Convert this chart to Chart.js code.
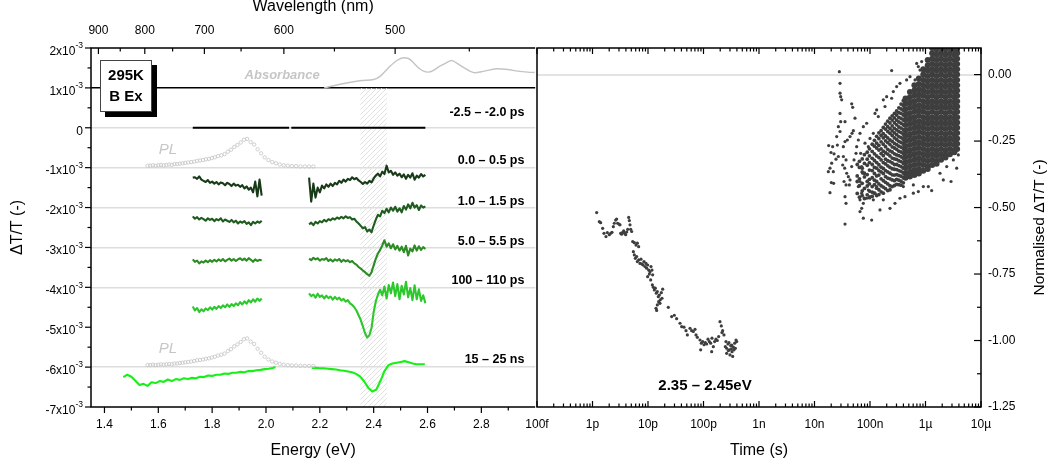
<!DOCTYPE html>
<html>
<head>
<meta charset="utf-8">
<script src="https://cdn.jsdelivr.net/npm/chart.js@4.4.1/dist/chart.umd.min.js"></script>
<style>
  html, body { margin: 0; padding: 0; background: #fff; }
  #wrap { position: relative; width: 1047px; height: 470px; overflow: hidden; background: #fff; }
  #left { position: absolute; left: 0; top: 0; }
  #right { position: absolute; left: 500px; top: 0; }
</style>
</head>
<body>
<div id="wrap">
  <canvas id="left" width="540" height="470"></canvas>
  <canvas id="right" width="547" height="470"></canvas>
</div>
<script>
// ===============================
// DATOS - espectros (ΔT/T en unidades de 1e-3)
// ===============================
const HC = 1239.84; // eV*nm

const energyLo = [1.728,1.736,1.744,1.752,1.760,1.768,1.776,1.784,1.792,1.800,1.808,1.816,1.824,1.832,1.840,1.848,1.856,
  1.864,1.872,1.880,1.888,1.896,1.904,1.912,1.920,1.928,1.936,1.944,1.952,1.960,1.968,1.976,1.984];
const energyHi = [2.160,2.168,2.176,2.184,2.192,2.200,2.208,2.216,2.224,2.232,2.240,2.248,2.256,2.264,2.272,2.280,2.288,
  2.296,2.304,2.312,2.320,2.328,2.336,2.344,2.352,2.360,2.368,2.376,2.384,2.392,2.400,2.408,2.416,2.424,2.432,2.440,
  2.448,2.456,2.464,2.472,2.480,2.488,2.496,2.504,2.512,2.520,2.528,2.536,2.544,2.552,2.560,2.568,2.576,2.584,2.592];

const preEnergy = [1.728, 2.086, 2.094, 2.592];
const preValue = [0, 0, 0, 0];

const ps0Lo = [-1.25,-1.24,-1.28,-1.22,-1.30,-1.33,-1.36,-1.31,-1.38,-1.35,-1.40,-1.36,-1.42,-1.37,-1.39,-1.44,-1.38,
  -1.41,-1.46,-1.40,-1.45,-1.43,-1.48,-1.44,-1.52,-1.47,-1.55,-1.50,-1.62,-1.35,-1.72,-1.30,-1.70];
const ps0Hi = [-1.25,-1.85,-1.40,-1.75,-1.50,-1.62,-1.45,-1.52,-1.42,-1.48,-1.40,-1.46,-1.38,-1.42,-1.33,-1.38,-1.30,
  -1.35,-1.28,-1.31,-1.24,-1.29,-1.26,-1.32,-1.36,-1.41,-1.36,-1.40,-1.33,-1.37,-1.27,-1.20,-1.15,-1.22,-1.10,-1.16,
  -0.95,-1.12,-1.08,-1.18,-1.12,-1.20,-1.15,-1.24,-1.17,-1.28,-1.18,-1.25,-1.14,-1.30,-1.20,-1.25,-1.16,-1.22,-1.18];

const ps1Lo = [-2.22,-2.28,-2.24,-2.30,-2.26,-2.29,-2.33,-2.27,-2.31,-2.28,-2.34,-2.29,-2.32,-2.27,-2.35,-2.30,-2.33,
  -2.36,-2.31,-2.37,-2.33,-2.40,-2.35,-2.38,-2.34,-2.41,-2.37,-2.44,-2.36,-2.40,-2.35,-2.38,-2.33];
const ps1Hi = [-2.42,-2.38,-2.44,-2.36,-2.40,-2.34,-2.37,-2.31,-2.35,-2.29,-2.32,-2.27,-2.30,-2.25,-2.28,-2.23,-2.27,
  -2.22,-2.26,-2.24,-2.30,-2.28,-2.35,-2.40,-2.46,-2.52,-2.49,-2.60,-2.55,-2.62,-2.45,-2.30,-2.18,-2.22,-2.08,-2.14,
  -2.03,-2.12,-2.00,-2.08,-1.98,-2.10,-2.02,-2.12,-1.96,-2.05,-1.92,-2.02,-1.88,-2.00,-1.94,-2.06,-1.95,-2.00,-1.97];

const ps5Lo = [-3.30,-3.36,-3.33,-3.40,-3.35,-3.38,-3.33,-3.37,-3.32,-3.36,-3.31,-3.35,-3.30,-3.34,-3.29,-3.35,-3.31,
  -3.28,-3.33,-3.29,-3.34,-3.30,-3.27,-3.32,-3.28,-3.33,-3.27,-3.31,-3.36,-3.30,-3.34,-3.31,-3.33];
const ps5Hi = [-3.28,-3.32,-3.26,-3.30,-3.27,-3.33,-3.29,-3.31,-3.27,-3.34,-3.30,-3.35,-3.30,-3.33,-3.29,-3.36,-3.31,
  -3.35,-3.32,-3.37,-3.34,-3.40,-3.43,-3.49,-3.53,-3.58,-3.62,-3.67,-3.71,-3.62,-3.45,-3.28,-3.15,-3.06,-2.95,-2.82,
  -2.98,-2.90,-3.02,-2.92,-3.05,-2.96,-3.08,-2.98,-3.12,-2.96,-3.20,-3.03,-3.10,-2.95,-3.08,-2.97,-3.06,-2.99,-3.04];

const ps100Lo = [-4.48,-4.58,-4.52,-4.62,-4.55,-4.60,-4.53,-4.57,-4.50,-4.56,-4.49,-4.54,-4.47,-4.52,-4.45,-4.50,-4.43,
  -4.49,-4.42,-4.47,-4.40,-4.45,-4.37,-4.43,-4.35,-4.41,-4.32,-4.38,-4.30,-4.36,-4.28,-4.34,-4.28];
const ps100Hi = [-4.15,-4.22,-4.18,-4.26,-4.16,-4.24,-4.20,-4.28,-4.21,-4.27,-4.23,-4.31,-4.24,-4.30,-4.26,-4.33,-4.29,
  -4.36,-4.32,-4.40,-4.44,-4.50,-4.58,-4.70,-4.82,-4.98,-5.15,-5.26,-5.20,-5.02,-4.62,-4.35,-4.18,-4.06,-4.20,-3.98,
  -4.28,-3.94,-4.15,-3.88,-4.22,-3.92,-4.30,-3.96,-4.18,-3.86,-4.25,-4.02,-4.32,-3.95,-4.30,-4.05,-4.34,-4.20,-4.40];

const energyNsLo = [1.470,1.485,1.500,1.515,1.530,1.545,1.560,1.575,1.590,1.605,1.620,1.635,1.650,1.665,1.680,1.695,
  1.710,1.725,1.740,1.755,1.770,1.785,1.800,1.815,1.830,1.845,1.860,1.875,1.890,1.905,1.920,1.935,1.950,1.965,1.980,
  1.995,2.010,2.025,2.035];
const nsLo = [-6.25,-6.19,-6.24,-6.34,-6.45,-6.42,-6.47,-6.38,-6.40,-6.35,-6.37,-6.31,-6.35,-6.30,-6.32,-6.28,-6.30,
  -6.27,-6.28,-6.24,-6.25,-6.21,-6.22,-6.19,-6.19,-6.16,-6.17,-6.14,-6.14,-6.12,-6.13,-6.10,-6.10,-6.08,-6.07,-6.05,
  -6.04,-6.02,-6.00];
const energyNsHi = [2.170,2.185,2.200,2.215,2.230,2.245,2.260,2.275,2.290,2.305,2.320,2.335,2.350,2.365,2.380,2.395,
  2.410,2.425,2.440,2.455,2.470,2.485,2.500,2.515,2.530,2.545,2.560,2.575,2.590];
const nsHi = [-6.02,-6.02,-6.03,-6.03,-6.04,-6.05,-6.06,-6.08,-6.09,-6.11,-6.13,-6.17,-6.24,-6.36,-6.52,-6.61,-6.56,
  -6.35,-6.10,-5.95,-5.91,-5.89,-5.87,-5.85,-5.88,-5.91,-5.93,-5.93,-5.93];

// PL (altura sobre la linea base de cada espectro)
const plEnergy = [1.560,1.570,1.580,1.590,1.600,1.610,1.620,1.630,1.640,1.650,1.660,1.670,1.680,1.690,1.700,1.711,
  1.722,1.733,1.744,1.755,1.766,1.777,1.788,1.799,1.810,1.822,1.834,1.846,1.858,1.870,1.882,1.894,1.906,1.918,1.930,
  1.943,1.956,1.969,1.982,1.995,2.009,2.023,2.037,2.051,2.066,2.081,2.096,2.112,2.128,2.144,2.160,2.176];
const plHeight = [0.05,0.05,0.06,0.05,0.06,0.07,0.06,0.07,0.08,0.07,0.09,0.09,0.10,0.11,0.12,0.13,0.14,0.15,0.17,0.18,
  0.19,0.21,0.22,0.24,0.26,0.29,0.31,0.34,0.40,0.45,0.52,0.57,0.63,0.70,0.72,0.64,0.58,0.46,0.36,0.26,
  0.19,0.14,0.11,0.08,0.06,0.05,0.04,0.04,0.03,0.03,0.03,0.03];
const plBaselines = [-1, -6];

const absEnergy = [2.216,2.271,2.357,2.400,2.425,2.455,2.486,2.511,2.529,2.548,2.566,2.585,2.603,2.621,2.646,2.670,
  2.689,2.707,2.732,2.757,2.775,2.812,2.861,2.898,2.935,2.972,2.998];
const absValue = [1.00,1.085,1.185,1.21,1.296,1.504,1.687,1.754,1.737,1.629,1.504,1.421,1.396,1.436,1.546,1.629,
  1.687,1.629,1.521,1.421,1.378,1.421,1.479,1.46,1.421,1.396,1.386];

const bandRange = [2.35, 2.45];
const traceLabels = ["-2.5 \u2013 -2.0 ps", "0.0 \u2013 0.5 ps", "1.0 \u2013 1.5 ps", "5.0 \u2013 5.5 ps", "100 \u2013 110 ps", "15 \u2013 25 ns"];
const traceLabelY = [0.38, -0.82, -1.84, -2.84, -3.84, -5.82];
const traceBaselines = [0, -1, -2, -3, -4, -6];

// ejes
const energyMajor = [1.4, 1.6, 1.8, 2.0, 2.2, 2.4, 2.6, 2.8];
const energyMinor = [1.5, 1.7, 1.9, 2.1, 2.3, 2.5, 2.7, 2.9];
const nmMajor = [900, 800, 700, 600, 500];
const nmMinor = [850, 750, 650, 550, 450];
const leftMajor = [2, 1, 0, -1, -2, -3, -4, -5, -6, -7];
const leftMinor = [1.5, 0.5, -0.5, -1.5, -2.5, -3.5, -4.5, -5.5, -6.5];

// ===============================
// DATOS - cinetica normalizada (log10 del tiempo en s)
// ===============================
const decayLogT = [
  -11.925,-11.877,-11.853,-11.817,-11.793,-11.757,-11.733,-11.697,-11.673,-11.649,
  -11.625,-11.607,-11.583,-11.565,-11.547,-11.523,-11.505,-11.493,-11.475,-11.457,
  -11.438,-11.420,-11.402,-11.384,-11.366,-11.348,-11.336,-11.324,-11.312,-11.294,
  -11.276,-11.246,-11.216,-11.192,-11.168,-11.264,-11.246,-11.228,-11.204,-11.192,
  -11.168,-11.144,-11.126,-11.108,-11.090,-11.072,-11.054,-11.036,-11.024,-11.006,
  -10.988,-10.964,-10.946,-10.928,-10.916,-11.006,-10.976,-10.952,-10.922,-10.904,
  -10.886,-10.868,-10.850,-10.832,-10.814,-10.796,-10.778,-10.760,-10.748,-10.736,
  -10.808,-10.832,-10.856,-10.844,-10.784,-10.634,-10.574,-10.526,-10.484,-10.423,
  -10.393,-10.351,-10.315,-10.291,-10.243,-10.213,-10.183,-10.153,-10.135,-10.111,
  -10.063,-10.039,-10.015,-9.991,-9.967,-9.943,-9.919,-9.895,-9.871,-9.847,
  -9.823,-9.799,-9.775,-9.751,-9.727,-10.051,-9.853,-9.703,-9.679,-9.655,
  -9.631,-9.667,-9.607,-9.583,-9.559,-9.535,-9.510,-9.486,-9.462,-9.438,
  -9.414,-9.583,-9.523,-9.474,-9.450,-9.426,-9.402,-9.553,-9.498,-9.595,
  -9.541,-9.492];
const decayVal = [
  -0.519,-0.553,-0.557,-0.578,-0.597,-0.609,-0.594,-0.602,-0.597,-0.593,
  -0.572,-0.559,-0.547,-0.543,-0.559,-0.562,-0.565,-0.597,-0.600,-0.593,
  -0.588,-0.597,-0.602,-0.592,-0.582,-0.537,-0.549,-0.565,-0.582,-0.590,
  -0.628,-0.632,-0.641,-0.634,-0.647,-0.666,-0.678,-0.691,-0.684,-0.703,
  -0.697,-0.710,-0.694,-0.712,-0.716,-0.703,-0.722,-0.710,-0.728,-0.716,
  -0.735,-0.741,-0.722,-0.735,-0.753,-0.760,-0.750,-0.772,-0.791,-0.800,
  -0.810,-0.803,-0.822,-0.816,-0.835,-0.829,-0.847,-0.820,-0.841,-0.807,
  -0.854,-0.866,-0.879,-0.887,-0.860,-0.875,-0.910,-0.905,-0.918,-0.935,
  -0.948,-0.950,-0.963,-0.979,-0.954,-0.963,-0.966,-0.958,-0.979,-0.988,
  -0.998,-1.010,-1.004,-1.016,-1.008,-1.013,-0.995,-1.004,-1.010,-0.991,
  -1.023,-1.004,-0.995,-1.000,-0.985,-1.035,-1.042,-0.929,-0.945,-0.963,
  -0.979,-0.970,-1.023,-1.029,-1.013,-1.035,-1.020,-1.042,-1.025,-1.010,
  -0.998,-1.048,-1.054,-1.060,-1.035,-1.029,-1.004,-1.038,-1.032,-1.004,
  -1.008,-1.017];

// puntos sueltos de la nube (ns - us)
const cloudLogT = [
  -7.552,-7.540,-7.540,-7.528,-7.510,-7.540,-7.528,-7.570,-7.540,-7.600,
  -7.588,-7.745,-7.673,-7.703,-7.648,-7.613,-7.721,-7.661,-7.751,-7.697,
  -7.655,-7.721,-7.691,-7.570,-7.480,-7.450,-7.408,-7.360,-7.324,-7.300,
  -7.330,-7.312,-7.270,-7.450,-7.480,-7.432,-7.492,-7.456,-7.420,-7.390,
  -7.468,-7.432,-7.372,-7.450,-7.432,-7.450,-7.360,-7.330,-7.288,-7.252,
  -7.240,-7.210,-7.180,-7.168,-7.150,-7.132,-7.180,-7.210,-7.150,-7.180,
  -7.120,-7.150,-7.180,-7.120,-6.970,-7.060,-7.030,-7.000,-6.940,-6.910,
  -6.880,-6.820,-6.760,-6.640,-6.550,-6.460,-6.370,-6.219,-6.129,-6.610,
  -5.540,-5.438,-5.889,-5.949,-7.120,-7.060,-7.090,-7.030,-7.000,-6.940,
  -6.910,-6.880,-6.850,-6.760,-6.700,-6.730,-6.580,-6.610,-6.520,-6.460,
  -6.340,-6.279,-6.159,-6.129,-6.099,-6.189,-6.069,-5.739,-5.618,-5.498,
  -5.408,-5.679,-6.039,-6.219,-6.399];
const cloudVal = [
  0.011,-0.033,-0.070,-0.083,-0.095,-0.146,-0.177,-0.196,-0.214,-0.233,
  -0.265,-0.267,-0.271,-0.293,-0.298,-0.318,-0.352,-0.365,-0.365,-0.406,
  -0.409,-0.444,-0.333,-0.308,-0.271,-0.252,-0.246,-0.233,-0.221,-0.211,
  -0.110,-0.123,-0.164,-0.177,-0.308,-0.321,-0.340,-0.352,-0.371,-0.384,
  -0.402,-0.415,-0.415,-0.459,-0.484,-0.562,-0.396,-0.346,-0.321,-0.296,
  -0.271,-0.246,-0.221,-0.296,-0.346,-0.371,-0.402,-0.421,-0.446,-0.471,
  -0.484,-0.503,-0.515,-0.540,-0.547,-0.465,-0.434,-0.459,-0.471,-0.446,
  -0.421,-0.509,-0.471,-0.503,-0.484,-0.465,-0.459,-0.446,-0.440,0.015,
  -0.402,-0.352,-0.436,-0.421,-0.196,-0.183,-0.258,-0.271,-0.240,-0.221,
  -0.146,-0.133,-0.158,-0.095,-0.083,-0.120,-0.064,-0.089,-0.045,-0.033,
  -0.020,-0.008,0.042,0.030,0.017,-0.020,0.049,-0.371,-0.346,-0.321,
  -0.302,-0.396,-0.421,-0.415,-0.421];

// parte densa de la nube, por columnas [log10 t, valores]
const cloudSpeckle = [
  [-7.23, [-0.338,-0.381,-0.402,-0.447]],
  [-7.19, [-0.326,-0.349,-0.392,-0.418,-0.461]],
  [-7.14, [-0.317,-0.352,-0.366,-0.409,-0.437,-0.455]],
  [-7.10, [-0.301,-0.334,-0.371,-0.385,-0.428,-0.466]],
  [-7.05, [-0.292,-0.318,-0.341,-0.376,-0.402,-0.419,-0.452]],
  [-7.01, [-0.279,-0.306,-0.331,-0.359,-0.394,-0.411,-0.438,-0.463]],
  [-6.96, [-0.262,-0.289,-0.315,-0.338,-0.361,-0.388,-0.421,-0.442,-0.458]],
  [-6.92, [-0.247,-0.269,-0.298,-0.323,-0.349,-0.372,-0.397,-0.414,-0.446]],
  [-6.88, [-0.232,-0.258,-0.276,-0.306,-0.331,-0.352,-0.381,-0.402,-0.427,-0.455]],
  [-6.84, [-0.219,-0.241,-0.266,-0.284,-0.312,-0.339,-0.361,-0.378,-0.411,-0.433,-0.451]],
  [-6.80, [-0.211,-0.229,-0.253,-0.279,-0.297,-0.321,-0.348,-0.366,-0.392,-0.418,-0.441]],
  [-6.76, [-0.199,-0.222,-0.238,-0.262,-0.288,-0.305,-0.331,-0.353,-0.372,-0.399,-0.423,-0.446]],
  [-6.72, [-0.186,-0.205,-0.231,-0.249,-0.271,-0.294,-0.318,-0.336,-0.361,-0.384,-0.405,-0.429]],
  [-6.68, [-0.175,-0.196,-0.214,-0.238,-0.256,-0.281,-0.299,-0.324,-0.343,-0.366,-0.389,-0.411,-0.436]],
  [-6.64, [-0.164,-0.182,-0.203,-0.221,-0.246,-0.263,-0.287,-0.306,-0.327,-0.349,-0.371,-0.392,-0.418,-0.433]],
  [-6.60, [-0.155,-0.171,-0.193,-0.212,-0.229,-0.251,-0.272,-0.291,-0.314,-0.332,-0.354,-0.377,-0.396,-0.421]],
  [-6.56, [-0.146,-0.163,-0.181,-0.202,-0.219,-0.238,-0.259,-0.276,-0.298,-0.317,-0.338,-0.356,-0.378,-0.399,-0.417]],
  [-6.52, [-0.137,-0.152,-0.171,-0.189,-0.208,-0.226,-0.244,-0.263,-0.281,-0.302,-0.319,-0.338,-0.357,-0.376,-0.394,-0.413]],
  [-6.48, [-0.125,-0.143,-0.161,-0.178,-0.197,-0.214,-0.233,-0.251,-0.269,-0.288,-0.305,-0.324,-0.342,-0.361,-0.379,-0.397,-0.414]],
  [-6.44, [-0.111,-0.129,-0.146,-0.165,-0.183,-0.201,-0.218,-0.237,-0.255,-0.273,-0.291,-0.309,-0.327,-0.346,-0.364,-0.382,-0.401,-0.416]],
  [-6.40, [-0.098,-0.117,-0.134,-0.152,-0.171,-0.189,-0.207,-0.224,-0.243,-0.261,-0.279,-0.297,-0.315,-0.334,-0.352,-0.370,-0.388,-0.407]]
];
const cloudCore = [
  [-6.36, [-0.090,-0.110,-0.130,-0.150,-0.170,-0.190,-0.210,-0.230,-0.250,-0.270,-0.290,-0.310,-0.330,-0.350,-0.370,-0.388]],
  [-6.28, [-0.065,-0.085,-0.105,-0.125,-0.145,-0.165,-0.185,-0.205,-0.225,-0.245,-0.265,-0.285,-0.305,-0.325,-0.345,-0.365,-0.383]],
  [-6.20, [-0.040,-0.060,-0.080,-0.100,-0.120,-0.140,-0.160,-0.180,-0.200,-0.220,-0.240,-0.260,-0.280,-0.300,-0.320,-0.340,-0.360,-0.378]],
  [-6.12, [-0.015,-0.035,-0.055,-0.075,-0.095,-0.115,-0.135,-0.155,-0.175,-0.195,-0.215,-0.235,-0.255,-0.275,-0.295,-0.315,-0.335,-0.355,-0.372]],
  [-6.04, [0.020,0.000,-0.020,-0.040,-0.060,-0.080,-0.100,-0.120,-0.140,-0.160,-0.180,-0.200,-0.220,-0.240,-0.260,-0.280,-0.300,-0.320,-0.340,-0.362]],
  [-5.96, [0.055,0.035,0.015,-0.005,-0.025,-0.045,-0.065,-0.085,-0.105,-0.125,-0.145,-0.165,-0.185,-0.205,-0.225,-0.245,-0.265,-0.285,-0.305,-0.325,-0.345,-0.355]],
  [-5.88, [0.100,0.080,0.060,0.040,0.020,0.000,-0.020,-0.040,-0.060,-0.080,-0.100,-0.120,-0.140,-0.160,-0.180,-0.200,-0.220,-0.240,-0.260,-0.280,-0.300,-0.320,-0.340]],
  [-5.80, [0.095,0.075,0.055,0.035,0.015,-0.005,-0.025,-0.045,-0.065,-0.085,-0.105,-0.125,-0.145,-0.165,-0.185,-0.205,-0.225,-0.245,-0.265,-0.285,-0.305,-0.325,-0.335]],
  [-5.72, [0.100,0.080,0.060,0.040,0.020,0.000,-0.020,-0.040,-0.060,-0.080,-0.100,-0.120,-0.140,-0.160,-0.180,-0.200,-0.220,-0.240,-0.260,-0.280,-0.300,-0.320]],
  [-5.64, [0.095,0.075,0.055,0.035,0.015,-0.005,-0.025,-0.045,-0.065,-0.085,-0.105,-0.125,-0.145,-0.165,-0.185,-0.205,-0.225,-0.245,-0.265,-0.285,-0.305,-0.312]],
  [-5.56, [0.100,0.080,0.060,0.040,0.020,0.000,-0.020,-0.040,-0.060,-0.080,-0.100,-0.120,-0.140,-0.160,-0.180,-0.200,-0.220,-0.240,-0.260,-0.280,-0.300]],
  [-5.48, [0.095,0.075,0.055,0.035,0.015,-0.005,-0.025,-0.045,-0.065,-0.085,-0.105,-0.125,-0.145,-0.165,-0.185,-0.205,-0.225,-0.245,-0.265,-0.285,-0.292]],
  [-5.43, [0.100,0.080,0.060,0.040,0.020,0.000,-0.020,-0.040,-0.060,-0.080,-0.100,-0.120,-0.140,-0.160,-0.180,-0.200,-0.220,-0.240,-0.260,-0.280]]
];

const timeExp = [-13, -12, -11, -10, -9, -8, -7, -6, -5];
const timeLabels = ["100f", "1p", "10p", "100p", "1n", "10n", "100n", "1\u00b5", "10\u00b5"];
const timeMinorSteps = [2, 3, 4, 5, 6, 7, 8, 9];
const normMajor = [0, -0.25, -0.5, -0.75, -1.0, -1.25];
const normMinor = [-0.125, -0.375, -0.625, -0.875, -1.125];

// ===============================
// UTILIDADES
// ===============================
const FONT = "'Liberation Sans', Arial, sans-serif";
Chart.defaults.font.family = FONT;
Chart.defaults.font.size = 12;
Chart.defaults.color = "#000";

function pts(xs, ys) {
  return xs.map((x, i) => ({ x: x, y: ys[i] }));
}
// dos tramos con un hueco (null) entre ellos
function twoSegs(eLo, vLo, eHi, vHi) {
  const out = pts(eLo, vLo);
  out.push({ x: (eLo[eLo.length - 1] + eHi[0]) / 2, y: null });
  return out.concat(pts(eHi, vHi));
}
function logPts(logT, vals) {
  return logT.map((t, i) => ({ x: Math.pow(10, t), y: vals[i] }));
}
function colPts(cols) {
  const out = [];
  cols.forEach(c => c[1].forEach(v => out.push({ x: Math.pow(10, c[0]), y: v })));
  return out;
}
function line(ctx, x1, y1, x2, y2) {
  ctx.beginPath(); ctx.moveTo(x1, y1); ctx.lineTo(x2, y2); ctx.stroke();
}

function trace(data, color) {
  return {
    type: "line", data: data, borderColor: color, borderWidth: 2.1,
    pointRadius: 0, tension: 0, spanGaps: false, borderJoinStyle: "round"
  };
}

const leftCtx = document.getElementById("left").getContext("2d");
function makeHatch() {
  const c = document.createElement("canvas");
  c.width = 5; c.height = 5;
  const g = c.getContext("2d");
  g.strokeStyle = "#dedede"; g.lineWidth = 0.9;
  g.beginPath();
  g.moveTo(0, 5); g.lineTo(5, 0);
  g.moveTo(-1, 1); g.lineTo(1, -1);
  g.moveTo(4, 6); g.lineTo(6, 4);
  g.stroke();
  return leftCtx.createPattern(c, "repeat");
}

// ===============================
// PANEL IZQUIERDO - ESPECTROS
// ===============================
const leftDecor = {
  id: "leftDecor",
  afterDraw(chart) {
    const ctx = chart.ctx, a = chart.chartArea;
    const xs = chart.scales.x, xt = chart.scales.xTop, ys = chart.scales.y;
    ctx.save();
    // marco: el borde derecho lo dibuja el panel de la derecha
    ctx.strokeStyle = "#000"; ctx.lineWidth = 1.5;
    ctx.beginPath();
    ctx.moveTo(a.right, a.top); ctx.lineTo(a.left, a.top);
    ctx.lineTo(a.left, a.bottom); ctx.lineTo(a.right, a.bottom);
    ctx.stroke();

    ctx.lineWidth = 1.2;
    energyMajor.forEach(v => { const x = xs.getPixelForValue(v); line(ctx, x, a.bottom, x, a.bottom + 6); });
    energyMinor.forEach(v => { const x = xs.getPixelForValue(v); line(ctx, x, a.bottom, x, a.bottom + 3.5); });
    nmMajor.forEach(nm => { const x = xt.getPixelForValue(HC / nm); line(ctx, x, a.top, x, a.top + 6); });
    nmMinor.forEach(nm => { const x = xt.getPixelForValue(HC / nm); line(ctx, x, a.top, x, a.top + 3.5); });
    leftMajor.forEach(v => { const y = ys.getPixelForValue(v); line(ctx, a.left - 6, y, a.left, y); });
    leftMinor.forEach(v => { const y = ys.getPixelForValue(v); line(ctx, a.left - 3.5, y, a.left, y); });

    // etiquetas del eje y con exponente
    ctx.fillStyle = "#000"; ctx.textBaseline = "middle"; ctx.textAlign = "right";
    const xr = a.left - 8;
    leftMajor.forEach(v => {
      const y = ys.getPixelForValue(v);
      if (v === 0) {
        ctx.font = "12px " + FONT; ctx.fillText("0", xr, y + 3.5);
        return;
      }
      ctx.font = "8.5px " + FONT;
      const sup = "-3", w = ctx.measureText(sup).width;
      ctx.fillText(sup, xr, y - 2);
      ctx.font = "12px " + FONT;
      ctx.fillText(v + "x10", xr - w, y + 3.5);
    });

    // titulos
    ctx.textAlign = "center";
    ctx.font = "16px " + FONT;
    const cx = (a.left + a.right) / 2;
    ctx.fillText("Wavelength (nm)", cx, 7);
    ctx.fillText("Energy (eV)", cx, 451);
    ctx.save();
    ctx.translate(18, (a.top + a.bottom) / 2);
    ctx.rotate(-Math.PI / 2);
    ctx.fillText("\u0394T/T (-)", 0, 0);
    ctx.restore();

    // rotulos de cada espectro
    ctx.textAlign = "right";
    ctx.font = "bold 12.5px " + FONT;
    const lx = xs.getPixelForValue(2.96);
    traceLabels.forEach((t, i) => ctx.fillText(t, lx, ys.getPixelForValue(traceLabelY[i])));

    ctx.textAlign = "center";
    ctx.fillStyle = "#c6c6c6";
    ctx.font = "italic 15px " + FONT;
    plBaselines.forEach(b => ctx.fillText("PL", xs.getPixelForValue(1.636), ys.getPixelForValue(b + 0.45)));
    ctx.font = "italic bold 13px " + FONT;
    ctx.fillText("Absorbance", xs.getPixelForValue(2.06), ys.getPixelForValue(1.32));

    // recuadro de temperatura
    const bx = a.left + 9, by = a.top + 12, bw = 52, bh = 52;
    ctx.fillStyle = "#000";
    ctx.fillRect(bx + 5, by + 5, bw, bh);
    ctx.fillStyle = "#fff";
    ctx.fillRect(bx, by, bw, bh);
    ctx.strokeStyle = "#444"; ctx.lineWidth = 1;
    ctx.strokeRect(bx + 0.5, by + 0.5, bw - 1, bh - 1);
    ctx.fillStyle = "#000";
    ctx.font = "bold 15px " + FONT;
    ctx.fillText("295K", bx + bw / 2, by + 16);
    ctx.fillText("B Ex", bx + bw / 2, by + 37);
    ctx.restore();
  }
};

function leftGridColor(ctx) {
  const v = ctx.tick ? ctx.tick.value : null;
  if (v === 1) return "#000";
  if (traceBaselines.includes(v)) return "#dddddd";
  return "rgba(0,0,0,0)";
}

new Chart(leftCtx, {
  type: "line",
  data: {
    datasets: [
      {
        type: "line", data: [{ x: bandRange[0], y: 1 }, { x: bandRange[1], y: 1 }],
        fill: { value: -7 }, backgroundColor: makeHatch(), borderWidth: 0, pointRadius: 0, order: 10
      },
      {
        type: "line", data: pts(absEnergy, absValue), borderColor: "#c4c4c4", borderWidth: 1.4,
        pointRadius: 0, cubicInterpolationMode: "monotone"
      },
      {
        type: "line", data: pts(plEnergy, plHeight.map(h => plBaselines[0] + h)), showLine: false,
        pointRadius: 1.7, pointBorderColor: "#c4c4c4", pointBackgroundColor: "rgba(0,0,0,0)", pointBorderWidth: 0.8
      },
      {
        type: "line", data: pts(plEnergy, plHeight.map(h => plBaselines[1] + h)), showLine: false,
        pointRadius: 1.7, pointBorderColor: "#c4c4c4", pointBackgroundColor: "rgba(0,0,0,0)", pointBorderWidth: 0.8
      },
      trace(twoSegs(preEnergy.slice(0, 2), preValue.slice(0, 2), preEnergy.slice(2), preValue.slice(2)), "#000"),
      trace(twoSegs(energyLo, ps0Lo, energyHi, ps0Hi), "#183a18"),
      trace(twoSegs(energyLo, ps1Lo, energyHi, ps1Hi), "#1f5c1f"),
      trace(twoSegs(energyLo, ps5Lo, energyHi, ps5Hi), "#2b8c24"),
      trace(twoSegs(energyLo, ps100Lo, energyHi, ps100Hi), "#2cc82c"),
      trace(twoSegs(energyNsLo, nsLo, energyNsHi, nsHi), "#16f016")
    ]
  },
  options: {
    responsive: false, animation: false, devicePixelRatio: 1, events: [],
    layout: { padding: { left: 0, right: 3, top: 0, bottom: 0 } },
    plugins: { legend: { display: false }, tooltip: { enabled: false } },
    scales: {
      x: {
        type: "linear", position: "bottom", min: 1.35, max: 3.0,
        afterBuildTicks: s => { s.ticks = energyMajor.concat(energyMinor).sort((p, q) => p - q).map(v => ({ value: v })); },
        afterFit: s => { s.height = 63; },
        ticks: {
          autoSkip: false, maxRotation: 0, padding: 10,
          callback: v => energyMajor.includes(v) ? v.toFixed(1) : ""
        },
        grid: { display: false, drawTicks: false },
        border: { display: false }
      },
      xTop: {
        type: "linear", position: "top", min: 1.35, max: 3.0,
        afterBuildTicks: s => { s.ticks = nmMajor.map(nm => ({ value: HC / nm })); },
        afterFit: s => { s.height = 48; },
        ticks: { autoSkip: false, maxRotation: 0, padding: 10, callback: (v, i) => String(nmMajor[i]) },
        grid: { display: false, drawTicks: false },
        border: { display: false }
      },
      y: {
        type: "linear", position: "left", min: -7, max: 2,
        afterBuildTicks: s => { s.ticks = leftMajor.concat(leftMinor).sort((p, q) => p - q).map(v => ({ value: v })); },
        afterFit: s => { s.width = 91; },
        ticks: { display: false },
        grid: { color: leftGridColor, lineWidth: 1.4, drawTicks: false },
        border: { display: false }
      }
    }
  },
  plugins: [leftDecor]
});

// ===============================
// PANEL DERECHO - CINETICA
// ===============================
const rightDecor = {
  id: "rightDecor",
  afterDraw(chart) {
    const ctx = chart.ctx, a = chart.chartArea;
    const xs = chart.scales.x, ys = chart.scales.y;
    ctx.save();
    ctx.strokeStyle = "#000"; ctx.lineWidth = 1.5;
    ctx.strokeRect(a.left, a.top, a.right - a.left, a.bottom - a.top);
    ctx.lineWidth = 1.2;
    timeExp.forEach((e, i) => {
      const x = xs.getPixelForValue(Math.pow(10, e));
      line(ctx, x, a.bottom, x, a.bottom - 6);
      line(ctx, x, a.top, x, a.top + 6);
      if (i === timeExp.length - 1) return;
      timeMinorSteps.forEach(m => {
        const xm = xs.getPixelForValue(m * Math.pow(10, e));
        line(ctx, xm, a.bottom, xm, a.bottom - 3.5);
        line(ctx, xm, a.top, xm, a.top + 3.5);
      });
    });
    normMajor.forEach(v => { const y = ys.getPixelForValue(v); line(ctx, a.right - 7, y, a.right, y); });
    normMinor.forEach(v => { const y = ys.getPixelForValue(v); line(ctx, a.right - 4, y, a.right, y); });

    ctx.fillStyle = "#000"; ctx.textAlign = "center"; ctx.textBaseline = "middle";
    ctx.font = "16px " + FONT;
    ctx.fillText("Time (s)", (a.left + a.right) / 2, 451);
    ctx.save();
    ctx.translate(540, (a.top + a.bottom) / 2);
    ctx.rotate(-Math.PI / 2);
    ctx.font = "15.5px " + FONT;
    ctx.fillText("Normalised \u0394T/T (-)", 0, 0);
    ctx.restore();

    ctx.font = "bold 15px " + FONT;
    ctx.fillText("2.35 \u2013 2.45eV", a.left + 168, a.top + 338);
    ctx.restore();
  }
};

function dots(data, r) {
  return {
    type: "scatter", data: data, pointRadius: r, pointBorderWidth: 0,
    pointBackgroundColor: "#3e3e3e", backgroundColor: "#3e3e3e"
  };
}

new Chart(document.getElementById("right").getContext("2d"), {
  type: "scatter",
  data: {
    datasets: [
      dots(logPts(decayLogT, decayVal), 1.6),
      dots(logPts(cloudLogT, cloudVal), 1.6),
      dots(colPts(cloudSpeckle), 1.9),
      dots(colPts(cloudCore), 3.0)
    ]
  },
  options: {
    responsive: false, animation: false, devicePixelRatio: 1, events: [],
    layout: { padding: { left: 37, right: 0, top: 48, bottom: 0 } },
    plugins: { legend: { display: false }, tooltip: { enabled: false } },
    scales: {
      x: {
        type: "logarithmic", position: "bottom", min: 1e-13, max: 1e-5,
        afterBuildTicks: s => {
          const t = [];
          timeExp.forEach((e, i) => {
            t.push({ value: Math.pow(10, e) });
            if (i < timeExp.length - 1) timeMinorSteps.forEach(m => t.push({ value: m * Math.pow(10, e) }));
          });
          s.ticks = t;
        },
        afterFit: s => { s.height = 63; },
        ticks: {
          autoSkip: false, maxRotation: 0, padding: 10,
          callback: v => {
            const e = Math.log10(v), k = Math.round(e);
            if (Math.abs(e - k) > 1e-6) return "";
            return timeLabels[timeExp.indexOf(k)];
          }
        },
        grid: { display: false, drawTicks: false },
        border: { display: false }
      },
      y: {
        type: "linear", position: "right", min: -1.25, max: 0.1,
        afterBuildTicks: s => { s.ticks = normMajor.concat(normMinor).sort((p, q) => p - q).map(v => ({ value: v })); },
        afterFit: s => { s.width = 66; },
        ticks: { padding: 7, callback: v => normMajor.includes(v) ? v.toFixed(2) : "" },
        grid: {
          drawTicks: false, lineWidth: 2,
          color: c => (c.tick && c.tick.value === 0) ? "#e3e3e3" : "rgba(0,0,0,0)"
        },
        border: { display: false }
      }
    }
  },
  plugins: [rightDecor]
});
</script>
</body>
</html>
